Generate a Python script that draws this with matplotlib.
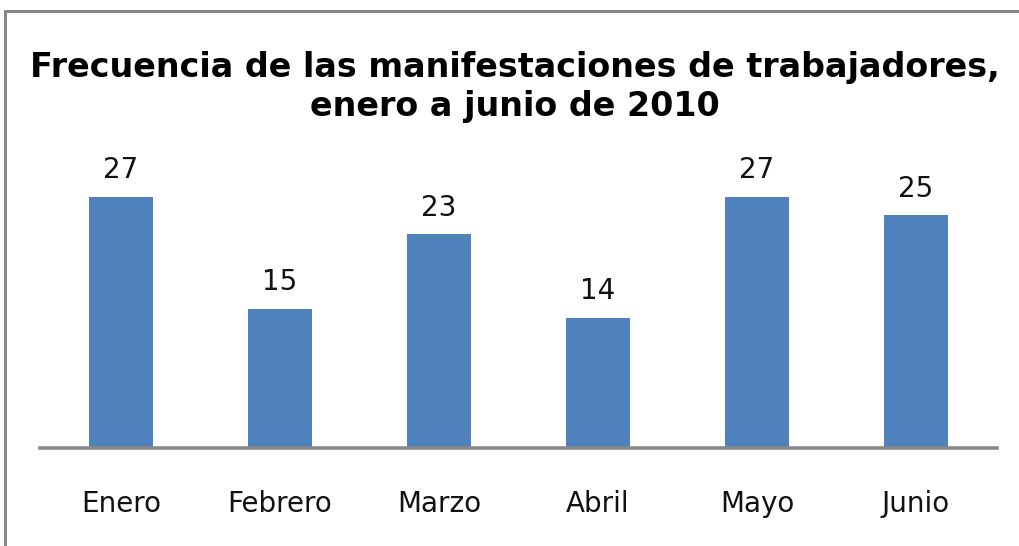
import matplotlib
matplotlib.use('Agg')
from matplotlib import pyplot as plt
from matplotlib.patches import Rectangle

months = ['Enero', 'Febrero', 'Marzo', 'Abril', 'Mayo', 'Junio']
counts = [27, 15, 23, 14, 27, 25]
title = 'Frecuencia de las manifestaciones de trabajadores,\nenero a junio de 2010'

bar_color = '#4f81bd'
line_color = '#898989'

plt.rcParams['font.family'] = ['DejaVu Sans']

fig = plt.figure(figsize=(10.19, 5.46), dpi=100)
fig.patch.set_facecolor('white')

# outer frame (top/left visible, rest runs off the image)
fig.add_artist(Rectangle((5 / 1019, -0.1), 1.2, 1 - 11 / 546 + 0.1,
                         transform=fig.transFigure, fill=False,
                         edgecolor=line_color, linewidth=2.2))

ax = fig.add_axes([40 / 1019, 1 - 448 / 546, 957 / 1019, 279 / 546])
x = range(len(months))
bars = ax.bar(x, counts, width=0.4, color=bar_color, zorder=2)
ax.set_xlim(-0.51, 5.51)
ax.set_ylim(0, 30)

for s in ['top', 'right', 'left']:
    ax.spines[s].set_visible(False)
ax.spines['bottom'].set_color(line_color)
ax.spines['bottom'].set_linewidth(2.6)
ax.spines['bottom'].set_zorder(3)
ax.set_yticks([])
ax.set_xticks(list(x))
ax.set_xticklabels(months, fontsize=20, color='#111111')
ax.tick_params(axis='x', length=0, pad=30)

for b, v in zip(bars, counts):
    ax.annotate(str(v), (b.get_x() + b.get_width() / 2, v),
                xytext=(0, 9), textcoords='offset points',
                ha='center', va='bottom', fontsize=20, color='#111111')

fig.text(515 / 1019, 1 - 87 / 546, title, ha='center', va='center',
         fontsize=24, fontweight='bold', linespacing=1.2, color='black')

plt.savefig('out.png', dpi=100)
plt.close()
